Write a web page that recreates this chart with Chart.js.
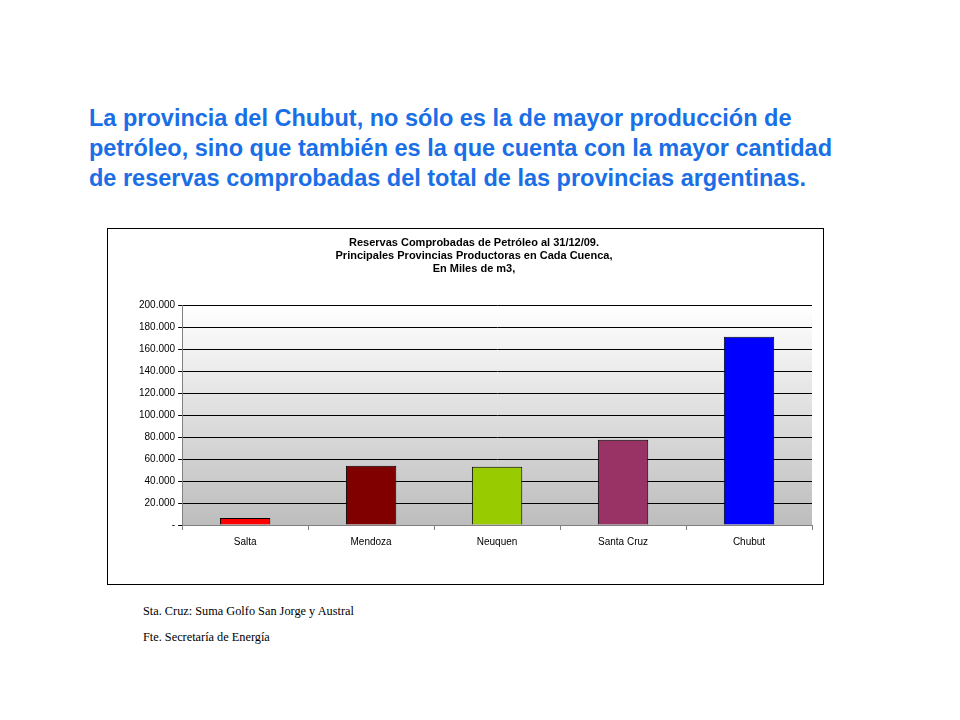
<!DOCTYPE html>
<html><head><meta charset="utf-8">
<script src="https://cdn.jsdelivr.net/npm/chart.js"></script>
<style>
body{margin:0;width:960px;height:720px;background:#fff;position:relative;font-family:"Liberation Sans",Arial,sans-serif}
#h{position:absolute;left:89px;top:103px;color:#1a6ee6;font-weight:bold;font-size:23.5px;line-height:30px;margin:0;white-space:nowrap}
#box{position:absolute;left:107px;top:228px;width:715px;height:355px;border:1px solid #000}
.n{position:absolute;left:143px;font-family:"Liberation Serif","Times New Roman",serif;font-size:12.3px}
</style></head><body>
<p id="h">La provincia del Chubut, no sólo es la de mayor producción de<br>petróleo, sino que también es la que cuenta con la mayor cantidad<br>de reservas comprobadas del total de las provincias argentinas.</p>
<div id="box"><canvas id="c" width="715" height="355"></canvas></div>
<div class="n" style="top:604px">Sta. Cruz: Suma Golfo San Jorge y Austral</div>
<div class="n" style="top:630px">Fte. Secretaría de Energía</div>
<script>
const categories=["Salta","Mendoza","Neuquen","Santa Cruz","Chubut"];
const values=[6400,53900,53000,77600,171700];
const colors=["#ff0000","#800000","#99cc00","#993366","#0000ff"];
const titleLines=["Reservas Comprobadas de Petróleo al 31/12/09.","Principales Provincias Productoras en Cada Cuenca,","En Miles de m3,"];
const bg={id:"bg",beforeDraw(ch){const a=ch.chartArea,x=ch.ctx;const g=x.createLinearGradient(0,a.top,0,a.bottom);g.addColorStop(0,"#ffffff");g.addColorStop(1,"#bdbdbd");x.fillStyle=g;x.fillRect(a.left,a.top,a.right-a.left,a.bottom-a.top);}};
new Chart(document.getElementById("c"),{type:"bar",
data:{labels:categories,datasets:[{data:values,backgroundColor:colors,borderColor:"#000",borderWidth:1,categoryPercentage:0.8,barPercentage:0.5}]},
options:{responsive:false,animation:false,
layout:{padding:{left:28,right:11,top:0,bottom:30}},
plugins:{legend:{display:false},tooltip:{enabled:false},
title:{display:true,text:titleLines,color:"#000",font:{family:"Liberation Sans",size:11,weight:"bold"},padding:{top:7,bottom:30},lineHeight:1.5}},
scales:{
y:{min:0,max:200000,ticks:{stepSize:20000,color:"#000",font:{family:"Liberation Sans",size:10},callback:v=>v===0?"-":v.toLocaleString("de-DE",{minimumFractionDigits:3}).replace(/,000$/,"").replace(/^(\d+),?(\d*)$/,"$1")},
 grid:{color:"#000",lineWidth:1,drawTicks:true,tickLength:4},border:{color:"#808080"}},
x:{ticks:{color:"#000",font:{family:"Liberation Sans",size:10},padding:6},grid:{display:true,drawOnChartArea:false,color:"#808080",tickLength:5,offset:true},border:{color:"#808080"}}}}
,plugins:[bg]});
</script></body></html>
